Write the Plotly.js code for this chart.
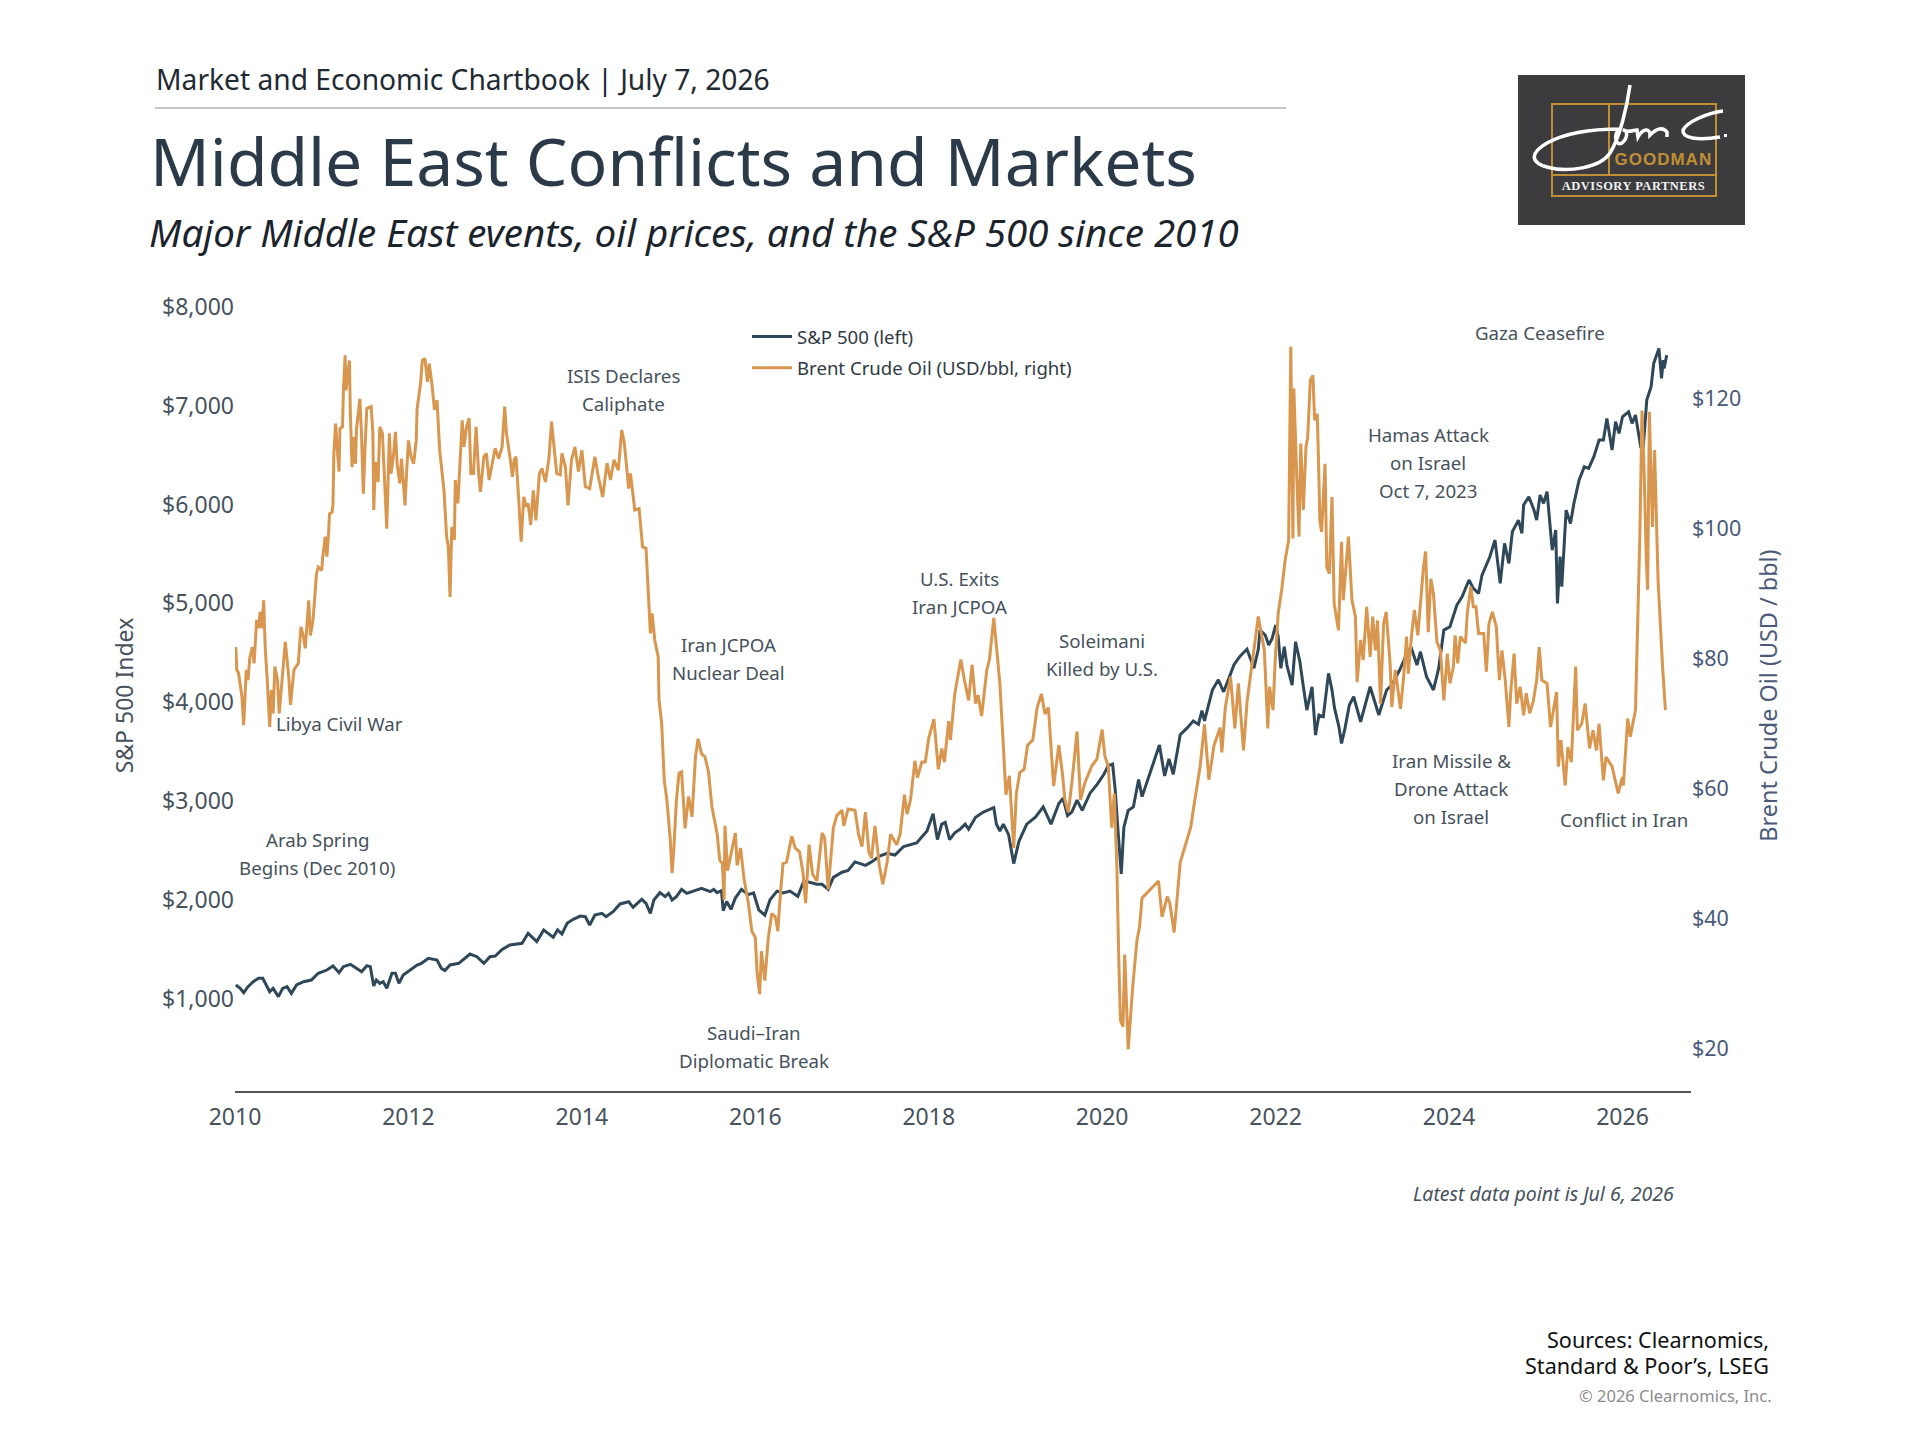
<!DOCTYPE html>
<html>
<head>
<meta charset="utf-8">
<script src="https://cdn.plot.ly/plotly-3.0.1.min.js"></script>
<style>
body { margin: 0; background: #ffffff; }
/* logo lettering is spaced out */
.annotation[data-index="5"] text { letter-spacing: 1px; }
.annotation[data-index="6"] text { letter-spacing: 0.5px; }
</style>
</head>
<body>
<div id="chart"></div>
<script>
// S&P 500, left axis
var spYears = [
2010.01,2010.06,2010.10,2010.15,2010.21,2010.27,2010.32,2010.37,2010.40,2010.44,2010.50,2010.55,2010.60,2010.65,2010.71,2010.79,2010.88,2010.96,
2011.06,2011.13,2011.20,2011.25,2011.33,2011.40,2011.46,2011.52,2011.56,2011.60,2011.63,2011.67,2011.71,2011.75,2011.81,2011.85,2011.89,2011.94,
2012.02,2012.10,2012.15,2012.23,2012.33,2012.38,2012.42,2012.48,2012.58,2012.65,2012.71,2012.79,2012.87,2012.94,
2013.00,2013.08,2013.17,2013.31,2013.38,2013.48,2013.56,2013.61,2013.67,2013.72,2013.77,2013.83,2013.90,2013.98,
2014.04,2014.09,2014.15,2014.23,2014.28,2014.36,2014.44,2014.54,2014.59,2014.69,2014.74,2014.79,2014.83,2014.90,2014.96,
2015.00,2015.04,2015.09,2015.15,2015.21,2015.29,2015.38,2015.48,2015.52,2015.56,2015.61,2015.63,2015.67,2015.72,2015.77,2015.84,2015.92,2015.98,
2016.04,2016.11,2016.17,2016.25,2016.32,2016.40,2016.49,2016.56,2016.63,2016.71,2016.77,2016.84,2016.90,
2017.00,2017.07,2017.15,2017.27,2017.34,2017.44,2017.52,2017.61,2017.71,2017.86,2017.98,
2018.05,2018.10,2018.15,2018.19,2018.24,2018.30,2018.36,2018.42,2018.46,2018.54,2018.63,2018.75,2018.78,2018.82,2018.86,2018.92,2018.98,
2019.04,2019.13,2019.23,2019.32,2019.41,2019.50,2019.55,2019.60,2019.65,2019.71,2019.77,2019.86,2019.94,
2020.02,2020.07,2020.12,2020.15,2020.18,2020.21,2020.22,2020.25,2020.30,2020.36,2020.42,2020.46,2020.55,2020.66,2020.72,2020.77,2020.82,2020.90,2020.98,
2021.05,2021.11,2021.15,2021.18,2021.27,2021.34,2021.40,2021.46,2021.52,2021.59,2021.67,2021.75,2021.80,2021.82,2021.88,2021.92,2021.96,2022.00,
2022.03,2022.06,2022.10,2022.13,2022.19,2022.23,2022.28,2022.32,2022.36,2022.42,2022.46,2022.50,2022.55,2022.61,2022.65,2022.68,2022.73,2022.76,2022.80,2022.85,2022.90,2022.98,
2023.09,2023.19,2023.28,2023.34,2023.43,2023.49,2023.56,2023.63,2023.67,2023.74,2023.82,2023.88,2023.94,
2024.01,2024.09,2024.15,2024.23,2024.28,2024.34,2024.38,2024.47,2024.53,2024.59,2024.64,2024.69,2024.73,2024.80,2024.84,2024.86,2024.92,2024.98,
2025.01,2025.05,2025.09,2025.13,2025.19,2025.23,2025.25,2025.28,2025.30,2025.35,2025.40,2025.44,2025.50,2025.56,2025.61,2025.67,2025.73,2025.78,2025.82,2025.88,2025.92,2025.96,
2026.00,2026.07,2026.11,2026.15,2026.21,2026.24,2026.28,2026.33,2026.36,2026.42,2026.45,2026.47,2026.48,2026.51
];
var spValues = [
1142,1108,1064,1125,1175,1209,1209,1125,1074,1108,1024,1108,1125,1057,1142,1175,1192,1260,
1293,1334,1266,1327,1351,1310,1276,1337,1327,1132,1192,1158,1175,1108,1260,1260,1158,1243,
1293,1344,1361,1411,1394,1310,1287,1344,1361,1411,1455,1428,1361,1428,
1435,1502,1546,1563,1664,1580,1698,1664,1624,1698,1657,1765,1806,1839,
1832,1748,1849,1866,1832,1883,1961,1984,1927,2008,1967,1866,2001,2075,2035,
2068,2001,2035,2109,2068,2095,2119,2085,2109,2075,2095,1893,1986,1906,2021,2108,2056,2073,
1900,1847,2004,2091,2073,2091,2038,2195,2177,2160,2160,2108,2230,
2282,2299,2386,2351,2386,2448,2473,2456,2542,2577,2699,
2872,2612,2768,2786,2612,2681,2716,2768,2716,2838,2890,2935,2768,2699,2768,2664,2369,
2594,2768,2838,2942,2768,2977,3029,2855,2890,3011,2907,3081,3168,
3272,3359,3376,3116,2734,2386,2264,2734,2907,2942,3220,3046,3289,3567,3255,3428,3272,3672,3741,
3811,3776,3915,3811,4124,4228,4106,4241,4380,4466,4536,4345,4536,4730,4680,4578,4646,4781,
4663,4343,4562,4376,4174,4612,4410,4157,3921,4157,3669,3871,3854,4292,4124,3938,3753,3584,3736,3972,4056,3803,
4157,3871,4124,4174,4326,4444,4562,4376,4511,4258,4124,4343,4730,
4764,4983,5067,5236,5151,5101,5286,5471,5640,5202,5606,5404,5724,5842,5707,5994,6078,5943,
5842,6095,6011,6129,5539,5741,5000,5472,5168,5943,5808,6011,6247,6381,6365,6483,6651,6651,6870,6550,6836,6718,
6887,6937,6820,6904,6584,6584,7055,7190,7426,7578,7274,7460,7376,7510
];

// Brent crude, right axis
var oilYears = [
2010.01,2010.02,2010.04,2010.06,2010.08,2010.10,2010.12,2010.13,2010.15,2010.17,2010.20,2010.22,2010.25,2010.27,2010.29,2010.31,2010.33,2010.35,2010.37,2010.38,2010.40,2010.42,2010.44,2010.46,2010.49,2010.51,2010.54,2010.58,2010.62,2010.64,2010.68,2010.73,2010.76,2010.79,2010.81,2010.85,2010.87,2010.90,2010.94,2010.96,
2011.00,2011.01,2011.04,2011.06,2011.08,2011.09,2011.12,2011.13,2011.14,2011.16,2011.18,2011.20,2011.21,2011.24,2011.25,2011.27,2011.28,2011.30,2011.32,2011.33,2011.35,2011.37,2011.39,2011.40,2011.44,2011.46,2011.48,2011.50,2011.52,2011.57,2011.59,2011.60,2011.62,2011.65,2011.67,2011.70,2011.72,2011.75,2011.78,2011.80,2011.83,2011.85,2011.87,2011.90,2011.92,2011.96,2011.98,
2012.00,2012.03,2012.06,2012.09,2012.10,2012.14,2012.16,2012.19,2012.22,2012.24,2012.27,2012.30,2012.33,2012.36,2012.39,2012.41,2012.44,2012.46,2012.48,2012.50,2012.53,2012.54,2012.57,2012.62,2012.64,2012.67,2012.70,2012.72,2012.75,2012.78,2012.81,2012.83,2012.87,2012.90,2012.93,2012.97,
2013.00,2013.04,2013.08,2013.11,2013.13,2013.17,2013.20,2013.22,2013.24,2013.27,2013.30,2013.33,2013.36,2013.38,2013.41,2013.44,2013.47,2013.51,2013.54,2013.58,2013.62,2013.65,2013.68,2013.71,2013.75,2013.77,2013.81,2013.84,2013.88,2013.92,2013.96,
2014.00,2014.04,2014.09,2014.15,2014.19,2014.24,2014.29,2014.33,2014.37,2014.42,2014.46,2014.49,2014.54,2014.56,2014.61,2014.66,2014.70,2014.74,2014.79,2014.81,2014.84,2014.88,2014.89,2014.92,2014.95,2014.98,
2015.02,2015.04,2015.06,2015.09,2015.12,2015.15,2015.19,2015.23,2015.27,2015.31,2015.34,2015.38,2015.42,2015.46,2015.50,2015.56,2015.59,2015.62,2015.64,2015.65,2015.68,2015.71,2015.77,2015.79,2015.83,2015.87,2015.92,2015.96,
2016.00,2016.02,2016.05,2016.07,2016.11,2016.15,2016.19,2016.23,2016.26,2016.29,2016.32,2016.36,2016.42,2016.46,2016.51,2016.55,2016.58,2016.62,2016.66,2016.71,2016.77,2016.80,2016.84,2016.90,2016.94,
2017.00,2017.02,2017.07,2017.15,2017.19,2017.23,2017.27,2017.31,2017.34,2017.38,2017.43,2017.47,2017.52,2017.56,2017.63,2017.67,2017.72,2017.75,2017.79,2017.84,2017.87,2017.92,2017.96,
2018.00,2018.06,2018.09,2018.11,2018.15,2018.18,2018.23,2018.25,2018.30,2018.37,2018.41,2018.46,2018.50,2018.54,2018.57,2018.61,2018.67,2018.70,2018.75,2018.79,2018.82,2018.86,2018.89,2018.93,2018.98,
2019.01,2019.05,2019.10,2019.14,2019.20,2019.25,2019.30,2019.34,2019.38,2019.44,2019.50,2019.54,2019.57,2019.61,2019.65,2019.71,2019.75,2019.80,2019.88,2019.94,
2020.00,2020.03,2020.07,2020.11,2020.14,2020.17,2020.19,2020.21,2020.24,2020.26,2020.30,2020.35,2020.40,2020.43,2020.46,2020.55,2020.65,2020.69,2020.75,2020.78,2020.83,2020.90,2020.96,
2021.02,2021.05,2021.13,2021.18,2021.23,2021.29,2021.36,2021.38,2021.42,2021.48,2021.53,2021.57,2021.63,2021.67,2021.75,2021.80,2021.87,2021.91,2021.93,2021.97,2021.995,
2022.03,2022.07,2022.11,2022.15,2022.175,2022.20,2022.21,2022.245,2022.27,2022.29,2022.32,2022.35,2022.37,2022.40,2022.43,2022.45,2022.48,2022.495,2022.51,2022.53,2022.57,2022.59,2022.62,2022.65,2022.675,2022.725,2022.76,2022.78,2022.84,2022.88,2022.92,2022.94,2022.98,
2023.01,2023.05,2023.09,2023.12,2023.15,2023.175,2023.21,2023.245,2023.275,2023.32,2023.34,2023.38,2023.44,2023.475,2023.51,2023.53,2023.57,2023.60,2023.64,2023.675,2023.705,2023.73,2023.76,2023.79,2023.82,2023.86,2023.90,2023.94,2023.98,
2024.01,2024.05,2024.07,2024.10,2024.13,2024.19,2024.21,2024.25,2024.28,2024.31,2024.34,2024.40,2024.43,2024.46,2024.50,2024.545,2024.58,2024.61,2024.65,2024.69,2024.71,2024.75,2024.78,2024.82,2024.86,2024.89,2024.93,2024.97,
2025.01,2025.04,2025.07,2025.13,2025.17,2025.24,2025.26,2025.29,2025.34,2025.37,2025.41,2025.46,2025.48,2025.53,2025.57,2025.62,2025.66,2025.70,2025.73,2025.78,2025.81,2025.88,2025.95,
2026.00,2026.01,2026.06,2026.09,2026.15,2026.18,2026.20,2026.225,2026.25,2026.275,2026.29,2026.31,2026.345,2026.37,2026.41,2026.46,2026.495
];
var oilValues = [
81.7,78.2,77.7,75.6,74.1,69.7,75.6,78.2,76.6,80,81.7,79.2,85.9,84.6,87.1,84.6,88.9,81.2,77.1,73.6,69.4,75.1,71.5,78.7,76.6,71.5,76.6,82.5,77.1,72.8,78.2,79.2,84.8,83.3,81.5,88.9,83.5,85.9,93,94,
93.5,95.3,98.7,95.6,99.4,102.2,102.5,103.8,111.5,116.1,112,108.7,115.3,115.6,121.2,126.6,121.2,123.8,125.8,117.6,109.4,114,109.9,115.1,119.9,114,105.3,112.5,118.4,118.7,114.6,102.8,110.2,107.1,115.6,114.6,107.9,99.9,114.6,108.4,111.5,114.8,109.9,106.9,110.7,103.5,108.9,
113.5,111,109.9,113.5,118.4,122.3,125.8,126.1,122.5,125.3,122.3,118.2,119.7,112,108.4,105.8,98.7,97.1,89.4,100.2,98.2,107.4,103.8,116.6,112.5,115.6,116.9,108.4,108.4,115.6,108.4,105.6,111,111.5,107.4,109.9,
112.3,110.7,112.5,118.7,114.6,111,107.9,110.5,111,104.8,97.9,104.8,103.3,103.8,100.5,105.8,101.2,108.4,109.2,107.1,110.7,116.4,112.5,108.4,108.2,111.5,109.4,103.5,110.5,112.5,108.7,
112,106.4,106.1,111,107.9,104.8,110,107.4,110.5,108.9,115.1,113,106.1,108.4,102.8,103,97.1,96.9,83.8,86.9,82.8,80.2,73.5,70,61.2,58.2,
52,46.9,50.5,58.1,62.3,62.5,53.8,58.7,55.6,64.8,67.6,65.3,64.8,62.5,57.1,53,48.9,48.4,42.8,54.2,47.3,49.2,53.1,48.1,50.8,46,42.3,38,
37,31.7,28.3,34.9,30.4,37,40.7,40.2,38,43.9,48.4,48.6,52.6,50.8,50.2,47,42.3,51.3,46.8,45.7,53.1,52.3,44.4,53.9,55.8,
56.6,54.2,56.8,56.6,52.9,51,56.3,50.2,49.2,54.2,48.1,45.2,48.6,52.9,51.3,52.9,59,56,58.2,64.2,61.6,64,64,
67.7,70.6,66.6,62.9,66.1,64,70.3,67.4,74.5,79.8,76.7,73.5,79,73,74.3,71.1,78.2,79.8,86.2,79.8,76.1,66.6,59,61.9,50.8,
59.2,62.4,62.9,66.6,67.4,72.4,74.5,71.4,72.4,60.3,66.6,62.4,58.2,56.3,60.8,68.7,58.2,60.8,63.4,64.5,
69,65,63.4,53.9,59.2,47.6,34.4,24.3,23.3,34.4,19.8,29.1,36.5,38.6,43.1,44.4,45.7,40.2,43.3,42.3,37.8,48.6,51.3,
53.9,56.6,63.4,69.8,61.3,66.6,69.3,65.5,72.4,77.1,69.2,76.1,65.8,73.2,81.9,86.4,81.2,69.2,75.6,72,79.7,
86.9,90.5,95.1,98.1,127.9,98.4,121.5,107.4,98.7,113,102.8,112.5,114,122.8,123.5,116.6,117.6,110.2,101.2,99.4,109.9,94,93,104.8,88.4,84.3,97.9,88.9,98.7,88.9,86.4,76.3,82.8,
79.7,87.9,80.2,86.4,81.2,85.8,73,85.3,87.1,79.2,72.5,78.2,72.2,76.9,83.3,77.6,83.8,87.4,83.5,89.4,94,96.4,84,92.2,89.9,82.5,81.2,73.5,80.7,
76.1,78.7,83.5,79.2,83.3,82.3,86.9,91,87.9,87.9,83.8,83.8,77.9,85.3,87.1,84.8,76.6,81.2,76.3,69.4,74.6,80.7,73,75.6,71.2,74.6,71.5,73.3,
76.6,81.7,76.6,76.1,69.4,74.8,63.3,67.4,60.4,66.3,64,78.7,68.9,69.9,73,66.1,68.9,65.8,69.9,61.2,64.8,63.3,59.2,
61.7,60.4,70.7,67.9,72,87.9,98.7,118.1,108.4,95.1,90.5,117.9,100.2,112,92,79.2,72
];

var leftTicks = [1000, 2000, 3000, 4000, 5000, 6000, 7000, 8000];
var rightTicks = [20, 40, 60, 80, 100, 120];

// events: label, centre x and y on the page
var eventLabels = ["ISIS Declares<br>Caliphate", "Libya Civil War", "Arab Spring<br>Begins (Dec 2010)", "Iran JCPOA<br>Nuclear Deal", "Saudi–Iran<br>Diplomatic Break", "U.S. Exits<br>Iran JCPOA", "Soleimani<br>Killed by U.S.", "Hamas Attack<br>on Israel<br>Oct 7, 2023", "Iran Missile &<br>Drone Attack<br>on Israel", "Conflict in Iran", "Gaza Ceasefire"];
var eventX = [623, 339, 317, 728, 754, 959, 1102, 1428, 1451, 1624, 1540];
var eventY = [389, 723, 853, 658, 1046, 592, 654, 462, 788, 819, 332];

var FONT = "'Noto Sans', sans-serif";
var W = 1920, H = 1440;
var L = 235, R = 1691, T = 300, B = 1091;
var LINE_GAP = 28;
var SLATE = "#46525c";
var NAVY = "#2f4859";
var ORANGE = "#d8964e";
var GOLD = "#c08f35";

// page pixels to paper fractions
function px(x) { return (x - L) / (R - L); }
function py(y) { return (B - y) / (B - T); }

function note(text, x, y, size, color, anchor, font, italic) {
	return {
		text: text, xref: "paper", yref: "paper", x: px(x), y: py(y),
		xanchor: anchor || "center", yanchor: "middle", showarrow: false, borderpad: 0,
		font: {family: font || FONT, size: size, color: color, style: italic ? "italic" : "normal"}
	};
}

function box(x0, y0, x1, y1, line, fill, width) {
	return {
		type: "rect", xref: "paper", yref: "paper", x0: px(x0), y0: py(y0), x1: px(x1), y1: py(y1),
		line: {color: line, width: width || 0}, fillcolor: fill || "rgba(0,0,0,0)"
	};
}

function hline(x0, x1, y, color, width) {
	return {
		type: "line", xref: "paper", yref: "paper", x0: px(x0), y0: py(y), x1: px(x1), y1: py(y),
		line: {color: color, width: width}
	};
}

// signature in the logo: groups of page coordinates
function sigPath(parts) {
	return parts.map(function(p) {
		var s = p[0];
		for (var i = 1; i < p.length; i += 2) {
			s += " " + px(p[i]) + "," + py(p[i + 1]);
		}
		return s;
	}).join(" ");
}
var sigJ = [["M",1630,85],["C",1627,107,1620,137,1610,153],["C",1600,168,1567,173,1547,167],["C",1530,162,1530,153,1547,143],["C",1567,132,1593,129,1620,129],["C",1613,132,1615,147,1622,143],["C",1628,138,1628,130,1623,130],["C",1630,133,1632,130,1637,130],["L",1638,137],["C",1643,128,1650,128,1650,135],["C",1657,128,1663,127,1667,132],["L",1667,137]];
var sigC = [["M",1723,111],["C",1707,113,1687,122,1683,130],["C",1682,138,1697,141,1720,137]];

var annotations = [
	note("Market and Economic Chartbook | July 7, 2026", 155, 79, 28.2, "#1f2a33", "left"),
	note("Middle East Conflicts and Markets", 149, 159.5, 66, "#2b3a48", "left"),
	note("Major Middle East events, oil prices, and the S&P 500 since 2010", 148, 232, 38.5, "#1b242c", "left", FONT, true),
	note("Latest data point is Jul 6, 2026", 1675, 1193, 19.5, SLATE, "right", FONT, true),
	note("Sources: Clearnomics,", 1770, 1339, 21.6, "#111111", "right"),
	note("GOODMAN", 1663, 159, 17, GOLD, "center", "'Liberation Sans Narrow', 'Liberation Sans', sans-serif"),
	note("ADVISORY PARTNERS", 1633, 186, 12.5, "#f2f2f2", "center", "'Liberation Serif', serif"),
	note("Standard & Poor’s, LSEG", 1770, 1365, 21.6, "#111111", "right"),
	note("© 2026 Clearnomics, Inc.", 1773, 1395, 16.5, "#8c8c8c", "right")
];
annotations[5].font.weight = 700;
annotations[6].font.weight = 700;

// every line of an event label is placed on its own, the gap is wider than plotly's <br>
eventLabels.forEach(function(t, i) {
	var parts = t.split("<br>");
	parts.forEach(function(line, k) {
		annotations.push(note(line, eventX[i], eventY[i] + (k - (parts.length - 1) / 2) * LINE_GAP, 18.7, SLATE));
	});
});

var shapes = [
	hline(155, 1286, 108, "#8a8a8a", 1.2),
	box(1518, 75, 1745, 225, "#3c3c3e", "#3c3c3e", 0),
	box(1552, 104, 1716, 196, GOLD, null, 2),
	hline(1552, 1716, 175, GOLD, 2),
	{type: "line", xref: "paper", yref: "paper", x0: px(1609), y0: py(104), x1: px(1609), y1: py(175), line: {color: GOLD, width: 2}},
	{type: "path", xref: "paper", yref: "paper", path: sigPath(sigJ), line: {color: "#ffffff", width: 3.5}},
	{type: "path", xref: "paper", yref: "paper", path: sigPath(sigC), line: {color: "#ffffff", width: 3.5}},
	box(1724, 134, 1727, 137, "#ffffff", "#ffffff", 0)
];

var traces = [
	{
		x: spYears, y: spValues, name: "S&P 500 (left)", type: "scatter", mode: "lines", legendgroup: "a",
		line: {color: NAVY, width: 3}
	},
	{
		x: oilYears, y: oilValues, name: "Brent Crude Oil (USD/bbl, right)", type: "scatter", mode: "lines", yaxis: "y2", legendgroup: "b",
		line: {color: ORANGE, width: 3}
	}
];

var layout = {
	width: W, height: H,
	margin: {l: L, r: W - R, t: T, b: H - B, pad: 0},
	paper_bgcolor: "#ffffff", plot_bgcolor: "#ffffff",
	font: {family: FONT, color: SLATE},
	showlegend: true,
	legend: {
		x: px(747), y: py(318), xanchor: "left", yanchor: "top", itemwidth: 40, tracegroupgap: 4,
		bgcolor: "rgba(0,0,0,0)", font: {size: 18.6, color: "#2f3a44"}
	},
	xaxis: {
		range: [2010, 2026.79], tick0: 2010, dtick: 2, tickformat: "d", showgrid: false, zeroline: false,
		showline: true, linecolor: "#555555", linewidth: 1.6, ticks: "", ticklabelstandoff: 5, tickfont: {size: 23, color: SLATE}
	},
	yaxis: {
		range: [70, 8067], tickvals: leftTicks, tickformat: "$,d", showgrid: false, zeroline: false,
		tickfont: {size: 23, color: SLATE},
		title: {text: "S&P 500 Index", standoff: 21, font: {size: 23, color: SLATE}}
	},
	yaxis2: {
		range: [13.4, 135.1], tickvals: rightTicks, tickformat: "$,d", overlaying: "y", side: "right",
		showgrid: false, zeroline: false, tickfont: {size: 21.5, color: "#4a5a78"},
		title: {text: "Brent Crude Oil (USD / bbl)", standoff: 20, font: {size: 23.4, color: "#4a5a78"}}
	},
	annotations: annotations,
	shapes: shapes
};

Plotly.newPlot("chart", traces, layout, {displayModeBar: false, staticPlot: true});
</script>
</body>
</html>
